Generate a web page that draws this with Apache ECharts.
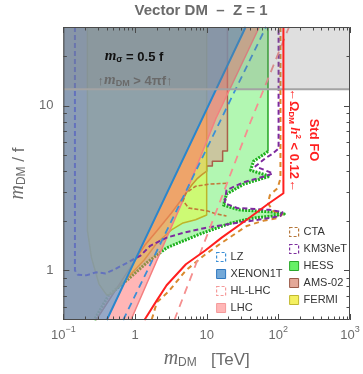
<!DOCTYPE html>
<html><head><meta charset="utf-8">
<script src="https://cdn.jsdelivr.net/npm/echarts@6/dist/echarts.min.js"></script>
<style>html,body{margin:0;padding:0;background:#fff}#c{width:363px;height:374px}</style>
</head><body><div id="c"></div>
<script>
const FONT = '"Liberation Sans", Arial, sans-serif';
const SERIF = '"Liberation Serif", "DejaVu Serif", serif';
const GRAY = '#6b6b6b';

// axis ranges and ticks (m_DM in TeV, m_DM/f)
const xRange = [0.1, 1000];
const yRange = [0.5, 30];
const xMajorTicks = [0.1, 1, 10, 100, 1000];
const yMajorTicks = [1, 10];
const perturbativeLimit = 12.57; // 4*pi

// region boundaries [m_DM, m_DM/f]
const xenonEdge = [[0.404,0.5],[0.858,1.0],[35,30]];
const lzLine = [[0.684,0.5],[67.3,30]];
const lhcEdge = [[0.877,0.5],[4.83,2.75],[13.4,8.32],[54.2,30]];
const hlLhcLine = [[3.54,0.5],[11.1,1.81],[41,7.98],[141,30]];
const stdFOLine = [[1.353,0.5],[2.025,0.66],[2.76,0.813],[5.13,1.09],[9.55,1.32],[16.2,1.58],[36.2,2.03],[71.7,2.53],[117.7,2.94],[117.7,30]];
const hessEdge = [[71.7,30],[71.7,5.27],[45,4.59],[41,4.05],[76.2,3.73],[33,3.34],[18.9,2.90],[17.2,2.49],[28.3,2.33],[83.7,2.26],[121,2.20],[83.7,2.14],[45,2.08],[22,1.94],[7.68,1.65],[2.76,1.37],[1.485,1.12],[0.799,0.883],[0.43,0.708],[0.27,0.5]];
const amsEdge = [[19.5,30],[19.5,5.3],[16.7,5.3],[16.7,4.6],[12.0,4.6],[12.0,4.3],[10.0,4.3],[10.0,4.0],[8.5,3.8],[7.45,3.62],[6.2,3.3],[5.13,2.94],[4.2,2.6],[3.225,2.23],[2.025,1.74],[1.353,1.41],[0.287,0.5]];
const fermiEdge = [[0.217,30],[0.217,1.74],[0.246,1.20],[0.315,0.824],[0.404,0.708],[0.472,0.717],[0.728,0.871],[1.353,1.16],[2.025,1.47],[3.225,1.76],[4.68,1.94],[7.0,2.03],[10,2.17],[10,30]];
const ctaHighLine = [[107,30],[107,3.62],[97.7,3.16],[76.2,2.86],[71.7,2.56],[83.7,2.30],[114,2.20],[100,2.08],[61.4,2.0],[36.2,1.86],[16.2,1.47],[9.55,1.25],[5.13,1.0],[2.9,0.74],[2.025,0.642],[1.7,0.5]];
const ctaLowLine = [[18.9,3.38],[11.1,3.34],[7.0,3.24],[5.13,2.94],[4.68,2.64],[5.63,2.39],[10,2.30],[13.85,2.20],[18.9,2.14]];
const km3netLine = [[0.145,30],[0.145,1.0],[0.159,0.94],[0.208,0.933],[0.284,0.973],[0.388,0.959],[0.53,1.02],[0.799,1.12],[1.195,1.23],[1.63,1.41],[2.76,1.58],[4.68,1.69],[9.55,1.81],[22,1.92],[61.4,2.05],[107,2.14],[114,2.26],[76.2,2.33],[26.6,2.39],[17.8,2.56],[18.9,3.07],[33,3.43],[65.3,3.73],[83.7,3.88],[47.9,4.28],[65.3,4.78],[83.7,5.12],[100.8,5.49],[100.8,30]];

const leftEdgeClose = [[xRange[0], yRange[0]], [xRange[0], yRange[1]]];

function polySeries(name, pts, fill) {
  return {type:'custom', name, silent:true, data:[[1,1]], itemStyle:{color:fill},
    renderItem:(p, api)=>({type:'polygon', shape:{points: pts.map(q=>api.coord(q))}, style:{fill:fill, stroke:'none'}})};
}
function lineSeries(name, pts, stroke, width, dash) {
  return {type:'custom', name, silent:true, data:[[1,1]], itemStyle:{color:stroke},
    renderItem:(p, api)=>({type:'polyline', shape:{points: pts.map(q=>api.coord(q))},
      style:{fill:'none', stroke:stroke, lineWidth:width, lineDash: dash || null, lineJoin:'round'}})};
}

// tick marks (major + minor, mirrored on all four sides) and frame
const xTickList = [], yTickList = [];
xMajorTicks.forEach(v => xTickList.push([v, 6]));
for (let k = -1; k < 3; k++) for (let m = 2; m <= 9; m++) xTickList.push([m * Math.pow(10, k), 3.5]);
yMajorTicks.forEach(v => yTickList.push([v, 6]));
[0.6,0.7,0.8,0.9,2,3,4,5,6,7,8,9,20].forEach(v => yTickList.push([v, 3.5]));

const tickSeries = {type:'custom', silent:true, data:[[1,1]], z:5,
  renderItem:(params, api)=>{
    const cs = params.coordSys;
    const L = cs.x, R = cs.x + cs.width, T = cs.y, B = cs.y + cs.height;
    const st = {stroke:'#4a4a4a', lineWidth:1};
    const ch = [];
    xTickList.forEach(([v,len])=>{
      const px = Math.round(api.coord([v,1])[0]) + 0.5;
      ch.push({type:'line', shape:{x1:px,y1:B,x2:px,y2:B-len}, style:st});
      ch.push({type:'line', shape:{x1:px,y1:T,x2:px,y2:T+len}, style:st});
    });
    yTickList.forEach(([v,len])=>{
      const py = Math.round(api.coord([1,v])[1]) + 0.5;
      ch.push({type:'line', shape:{x1:L,y1:py,x2:L+len,y2:py}, style:st});
      ch.push({type:'line', shape:{x1:R,y1:py,x2:R-len,y2:py}, style:st});
    });
    ch.push({type:'rect', shape:{x:L+0.5,y:T+0.5,width:cs.width-1,height:cs.height-1}, style:{fill:'none', stroke:'#4a4a4a', lineWidth:1}});
    return {type:'group', children:ch};
  }};

const series = [
  polySeries('HESS', hessEdge.concat(leftEdgeClose), 'rgba(0,230,0,0.3)'),
  lineSeries('hessV', hessEdge.slice(0,2), '#22a522', 1.5),
  lineSeries('hessW', hessEdge.slice(1), '#1cb01c', 3, [2,1.2]),
  polySeries('AMS-02', amsEdge.concat(leftEdgeClose), 'rgba(225,150,140,0.5)'),
  lineSeries('amsL', amsEdge, '#a8604a', 1.5),
  polySeries('FERMI', fermiEdge, 'rgba(255,255,0,0.35)'),
  lineSeries('fermiL', fermiEdge, '#bdb52a', 1.5),
  polySeries('LHC', lhcEdge.concat([[xRange[0], yRange[1]], [xRange[0], yRange[0]]]), 'rgba(255,110,110,0.5)'),
  lineSeries('lhcL', lhcEdge, '#f47f7f', 1.5),
  lineSeries('CTA', ctaHighLine, '#d9892e', 2, [5,4]),
  lineSeries('ctaLow', ctaLowLine, '#c27a3a', 1.6, [4,2]),
  lineSeries('KM3NeT', km3netLine, '#7d2a9e', 2, [5,3]),
  polySeries('XENON1T', xenonEdge.concat([[xRange[0], yRange[1]], [xRange[0], yRange[0]]]), 'rgba(84,160,210,0.61)'),
  lineSeries('xenL', xenonEdge, '#2a86cc', 2),
  lineSeries('LZ', lzLine, '#3b8fd6', 1.8, [7,5]),
  lineSeries('HL-LHC', hlLhcLine, '#f58f8f', 1.8, [8,6]),
  polySeries('pert', [[xRange[0],perturbativeLimit],[xRange[1],perturbativeLimit],[xRange[1],yRange[1]],[xRange[0],yRange[1]]], 'rgba(128,128,128,0.25)'),
  lineSeries('pertL', [[xRange[0],perturbativeLimit],[xRange[1],perturbativeLimit]], '#a3a3a3', 2),
  lineSeries('stdFO', stdFOLine, '#ff1f1f', 2),
  tickSeries
];

const legendText = {fontFamily:FONT, fontSize:11, color:'#333', lineHeight:12};
const option = {
  animation:false,
  grid:{left:53, right:13, top:27, bottom:51},
  xAxis:{type:'log', logBase:10, min:xRange[0], max:xRange[1],
    axisLine:{show:false}, axisTick:{show:false}, splitLine:{show:false},
    axisLabel:{margin:5, showMinLabel:true, showMaxLabel:true,
      formatter: v => { const l = Math.log10(v), e = Math.round(l); if (Math.abs(l-e) > 1e-6) return '';
        if (e === 0) return '{n|1}'; if (e === 1) return '{n|10}'; return '{n|10}{sup|' + (e < 0 ? '\u2212' + (-e) : e) + '}'; },
      rich:{n:{fontFamily:FONT, fontSize:13, color:GRAY, lineHeight:17, verticalAlign:'bottom'},
            sup:{fontFamily:FONT, fontSize:9, color:GRAY, lineHeight:10, verticalAlign:'top'}}},
    name:'{m|m}{s|DM}{t|   [TeV]}', nameLocation:'middle', nameGap:27,
    nameTextStyle:{rich:{m:{fontFamily:SERIF, fontStyle:'italic', fontSize:20, color:GRAY, lineHeight:22, verticalAlign:'bottom'},
      s:{fontFamily:FONT, fontSize:12, color:GRAY, lineHeight:12, verticalAlign:'bottom'},
      t:{fontFamily:FONT, fontSize:17, color:GRAY, lineHeight:22, verticalAlign:'bottom'}}}},
  yAxis:{type:'log', logBase:10, min:yRange[0], max:yRange[1],
    axisLine:{show:false}, axisTick:{show:false}, splitLine:{show:false},
    axisLabel:{margin:10, formatter: v => { const l = Math.log10(v), e = Math.round(l); if (Math.abs(l-e) > 1e-6) return '';
        return '{n|' + Math.pow(10,e) + '}'; },
      rich:{n:{fontFamily:FONT, fontSize:13, color:GRAY}}},
    name:'{m|m}{s|DM}{t| / f}', nameLocation:'middle', nameGap:33,
    nameTextStyle:{rich:{m:{fontFamily:SERIF, fontStyle:'italic', fontSize:20, color:GRAY, lineHeight:22, verticalAlign:'bottom'},
      s:{fontFamily:FONT, fontSize:12, color:GRAY, lineHeight:12, verticalAlign:'bottom'},
      t:{fontFamily:FONT, fontSize:17, color:GRAY, lineHeight:22, verticalAlign:'bottom'}}}},
  legend:[
    {orient:'vertical', left:216, top:251, padding:0, itemWidth:9, itemHeight:9, itemGap:5, textStyle:legendText, selectedMode:false,
     data:[
      {name:'LZ', icon:'rect', itemStyle:{color:'#fff', borderColor:'#3b8fd6', borderWidth:1.2, borderType:[3,2]}},
      {name:'XENON1T', icon:'rect', itemStyle:{color:'#74a9d8', borderColor:'#2f78c0', borderWidth:1}},
      {name:'HL-LHC', icon:'rect', itemStyle:{color:'#fff', borderColor:'#f59a9a', borderWidth:1.2, borderType:[3,2]}},
      {name:'LHC', icon:'rect', itemStyle:{color:'#ffb6b6', borderColor:'#f49a9a', borderWidth:1}}]},
    {orient:'vertical', left:289, top:226, padding:0, itemWidth:9, itemHeight:9, itemGap:5, textStyle:legendText, selectedMode:false,
     data:[
      {name:'CTA', icon:'rect', itemStyle:{color:'#fff', borderColor:'#b5773a', borderWidth:1.2, borderType:[3,2]}},
      {name:'KM3NeT', icon:'rect', itemStyle:{color:'#fff', borderColor:'#7e2f9e', borderWidth:1.2, borderType:[3,2]}},
      {name:'HESS', icon:'rect', itemStyle:{color:'#66f066', borderColor:'#2aa82a', borderWidth:1}},
      {name:'AMS-02', icon:'rect', itemStyle:{color:'#e4a898', borderColor:'#9a5a48', borderWidth:1}},
      {name:'FERMI', icon:'rect', itemStyle:{color:'#f4f060', borderColor:'#c0b830', borderWidth:1}}]}
  ],
  graphic:[
    {type:'text', x:201, y:11, z:100, style:{text:'Vector DM  \u2013  Z = 1', font:'bold 15px ' + FONT, fill:GRAY, align:'center', verticalAlign:'middle', textAlign:'center', textVerticalAlign:'middle'}},
    {type:'text', x:134, y:56, z:100, style:{text:'{m|m}{s|\u03c3}{t| = 0.5 f}', align:'center', verticalAlign:'middle', textAlign:'center', textVerticalAlign:'middle',
      rich:{m:{font:'italic bold 15px ' + SERIF, fill:'#111', lineHeight:16, verticalAlign:'bottom'},
            s:{font:'bold 9px ' + FONT, fill:'#111', lineHeight:9, verticalAlign:'bottom'},
            t:{font:'bold 13px ' + FONT, fill:'#111', lineHeight:16, verticalAlign:'bottom'}}}},
    {type:'text', x:135, y:80, z:100, style:{text:'{t|\u2191}{m|m}{s|DM}{t| > 4\u03c0f\u2191}', align:'center', verticalAlign:'middle', textAlign:'center', textVerticalAlign:'middle',
      rich:{m:{font:'italic bold 15px ' + SERIF, fill:'#6a6a6a', lineHeight:16, verticalAlign:'bottom'},
            s:{font:'bold 9px ' + FONT, fill:'#6a6a6a', lineHeight:9, verticalAlign:'bottom'},
            t:{font:'bold 13px ' + FONT, fill:'#6a6a6a', lineHeight:16, verticalAlign:'bottom'}}}},
    {type:'text', x:295, y:140, z:100, rotation:-Math.PI/2, style:{text:'{t|\u2190\u03a9}{s|DM}{h| h}{p|2}{t| < 0.12\u2190}', align:'center', verticalAlign:'middle', textAlign:'center', textVerticalAlign:'middle',
      rich:{t:{font:'bold 13px ' + FONT, fill:'#ff1f1f', lineHeight:15, verticalAlign:'bottom'},
            s:{font:'bold 8px ' + FONT, fill:'#ff1f1f', lineHeight:8, verticalAlign:'bottom'},
            h:{font:'italic bold 13px ' + SERIF, fill:'#ff1f1f', lineHeight:15, verticalAlign:'bottom'},
            p:{font:'bold 8px ' + FONT, fill:'#ff1f1f', lineHeight:15, verticalAlign:'top'}}}},
    {type:'text', x:314, y:140, z:100, rotation:-Math.PI/2, style:{text:'Std FO', font:'bold 13px ' + FONT, fill:'#ff1f1f', align:'center', verticalAlign:'middle', textAlign:'center', textVerticalAlign:'middle'}}
  ],
  series: series
};
const chart = echarts.init(document.getElementById('c'));
chart.setOption(option);
</script></body></html>
